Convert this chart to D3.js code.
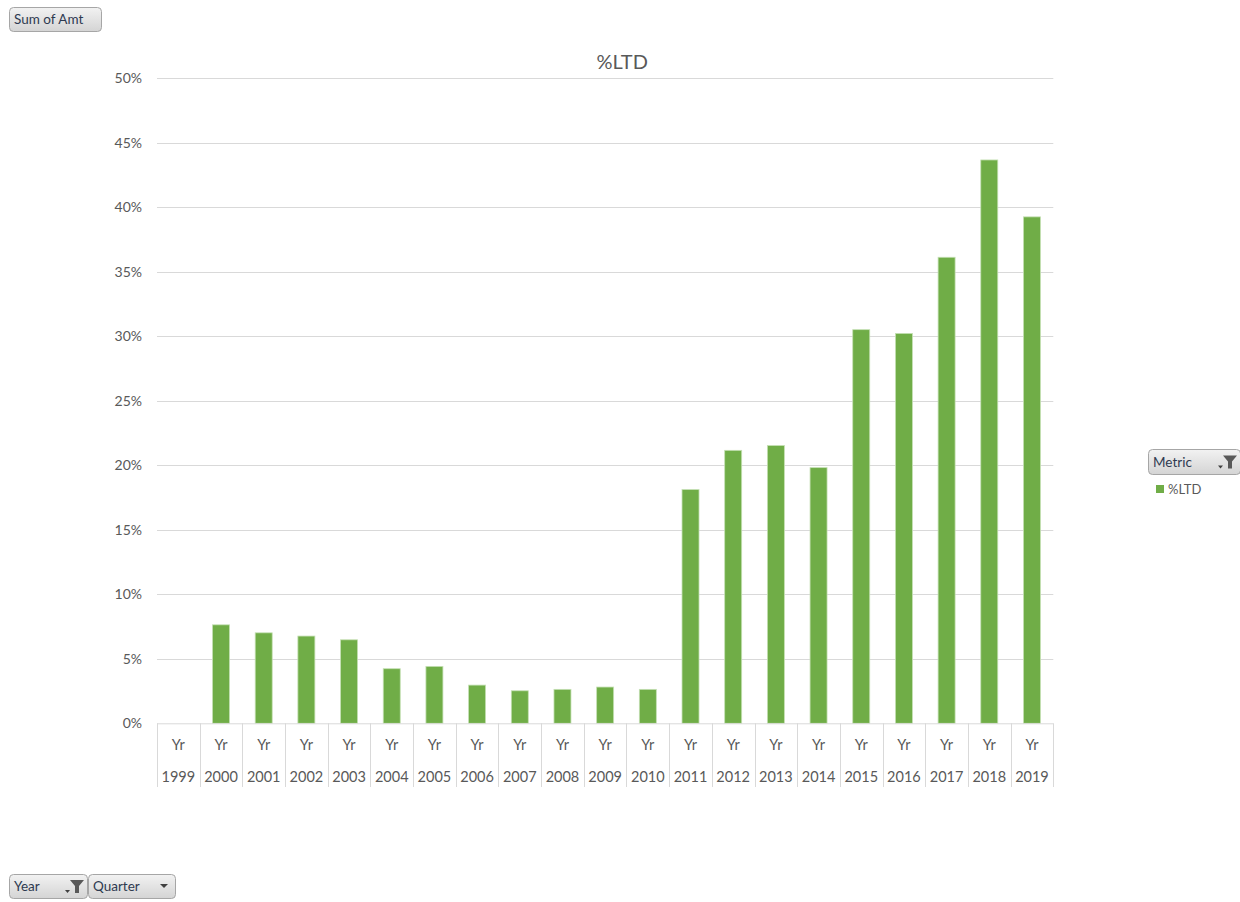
<!DOCTYPE html>
<html>
<head>
<meta charset="utf-8">
<script src="https://cdn.jsdelivr.net/npm/d3@7"></script>
<style>
  html, body { margin: 0; padding: 0; background: #fff; }
  svg { display: block; }
</style>
</head>
<body>
<svg id="chart" width="1240" height="902"></svg>
<script>
const years = ["1999","2000","2001","2002","2003","2004","2005","2006","2007","2008","2009","2010","2011","2012","2013","2014","2015","2016","2017","2018","2019"];
const quarterLabels = ["Yr","Yr","Yr","Yr","Yr","Yr","Yr","Yr","Yr","Yr","Yr","Yr","Yr","Yr","Yr","Yr","Yr","Yr","Yr","Yr","Yr"];
const ltdValues = [null, 0.0763, 0.0701, 0.0676, 0.0647, 0.0423, 0.0441, 0.0296, 0.0252, 0.0263, 0.0281, 0.0263, 0.1811, 0.2115, 0.2152, 0.1981, 0.3050, 0.3021, 0.3611, 0.4365, 0.3924];
const yTicks = [0, 0.05, 0.10, 0.15, 0.20, 0.25, 0.30, 0.35, 0.40, 0.45, 0.50];
const chartTitle = "%LTD";
const seriesName = "%LTD";

(function () {
const FONT = "Lato, 'Open Sans', sans-serif";
const svg = d3.select("#chart");
const pLeft = 157, pRight = 1053.3, pTop = 78, pBottom = 723.3;

const x = d3.scaleBand().domain(years).range([pLeft, pRight]).paddingInner(0).paddingOuter(0);
const y = d3.scaleLinear().domain([0, 0.5]).range([pBottom, pTop]);

const defs = svg.append("defs");
const grad = defs.append("linearGradient").attr("id", "btn").attr("x1", 0).attr("y1", 0).attr("x2", 0).attr("y2", 1);
grad.append("stop").attr("offset", "0%").attr("stop-color", "#f2f2f2");
grad.append("stop").attr("offset", "100%").attr("stop-color", "#d4d4d4");

// gridlines
svg.append("g").selectAll("line").data(yTicks.slice(1)).join("line")
  .attr("x1", pLeft).attr("x2", pRight)
  .attr("y1", d => Math.round(y(d)) + 0.5).attr("y2", d => Math.round(y(d)) + 0.5)
  .attr("stroke", "#d9d9d9").attr("stroke-width", 1);

// y axis labels
const yAxis = d3.axisLeft(y).tickValues(yTicks).tickFormat(d3.format(".0%")).tickSize(0).tickPadding(15);
const yg = svg.append("g").attr("transform", `translate(${pLeft},0)`).call(yAxis);
yg.select(".domain").remove();
yg.selectAll("text").attr("font-family", FONT).attr("font-size", 14).attr("fill", "#595959");

// bars
svg.append("g").selectAll("rect").data(years.map((yr, i) => ({yr, v: ltdValues[i]})).filter(d => d.v != null)).join("rect")
  .attr("x", d => x(d.yr) + x.bandwidth() / 2 - 8.5)
  .attr("width", 17)
  .attr("y", d => y(d.v))
  .attr("height", d => pBottom - y(d.v))
  .attr("fill", "#70ad47")
  .attr("stroke", "#c5e0b4").attr("stroke-width", 0.8);

// x axis baseline
svg.append("line").attr("x1", pLeft).attr("x2", pRight).attr("y1", pBottom + 0.5).attr("y2", pBottom + 0.5)
  .attr("stroke", "#d9d9d9");

// category separators
const seps = years.map(d => x(d)).concat([pRight]);
svg.append("g").selectAll("line").data(seps).join("line")
  .attr("x1", d => Math.round(d) + 0.5).attr("x2", d => Math.round(d) + 0.5)
  .attr("y1", pBottom).attr("y2", 787)
  .attr("stroke", "#d9d9d9");

// x labels: Yr row and year row
const xg = svg.append("g");
xg.selectAll("text.q").data(years).join("text").attr("class", "q")
  .attr("x", d => x(d) + x.bandwidth() / 2).attr("y", 750)
  .attr("text-anchor", "middle").attr("font-family", FONT).attr("font-size", 14.5).attr("fill", "#595959")
  .text((d, i) => quarterLabels[i]);
xg.selectAll("text.y").data(years).join("text").attr("class", "y")
  .attr("x", d => x(d) + x.bandwidth() / 2).attr("y", 782)
  .attr("text-anchor", "middle").attr("font-family", FONT).attr("font-size", 14.5).attr("fill", "#595959")
  .text(d => d);

// title
svg.append("text").attr("x", (pLeft + pRight) / 2 + 17).attr("y", 69)
  .attr("text-anchor", "middle").attr("font-family", FONT).attr("font-size", 20).attr("fill", "#595959")
  .text(chartTitle);

// buttons
function button(x0, y0, w, h, label, icon) {
  const g = svg.append("g");
  g.append("rect").attr("x", x0 + 0.5).attr("y", y0 + 0.5).attr("width", w).attr("height", h).attr("rx", 4)
    .attr("fill", "url(#btn)").attr("stroke", "#a6a6a6");
  g.append("text").attr("x", x0 + 5).attr("y", y0 + h / 2 + 5).attr("font-family", FONT).attr("font-size", 13.5)
    .attr("fill", "#2e3a50").text(label);
  const ix = x0 + w - 12;
  const cy = y0 + h / 2;
  if (icon === "filter") {
    g.append("path").attr("d", `M${ix - 5},${cy - 6} L${ix + 9},${cy - 6} L${ix + 4},${cy} L${ix + 4},${cy + 7} L${ix},${cy + 7} L${ix},${cy} Z`).attr("fill", "#595959");
    g.append("path").attr("d", `M${ix - 10},${cy + 4} L${ix - 5},${cy + 4} L${ix - 7.5},${cy + 7} Z`).attr("fill", "#404040");
  } else if (icon === "drop") {
    g.append("path").attr("d", `M${ix - 3},${cy - 2} L${ix + 5},${cy - 2} L${ix + 1},${cy + 2} Z`).attr("fill", "#404040");
  }
}
button(9, 7, 92, 24, "Sum of Amt", null);
button(1148, 449, 92, 25, "Metric", "filter");
button(9, 874, 78, 24, "Year", "filter");
button(88, 874, 87, 24, "Quarter", "drop");

// legend
svg.append("rect").attr("x", 1156).attr("y", 485).attr("width", 8).attr("height", 8).attr("fill", "#70ad47");
svg.append("text").attr("x", 1168).attr("y", 494).attr("font-family", FONT).attr("font-size", 13)
  .attr("fill", "#595959").text(seriesName);
})();
</script>
</body>
</html>
